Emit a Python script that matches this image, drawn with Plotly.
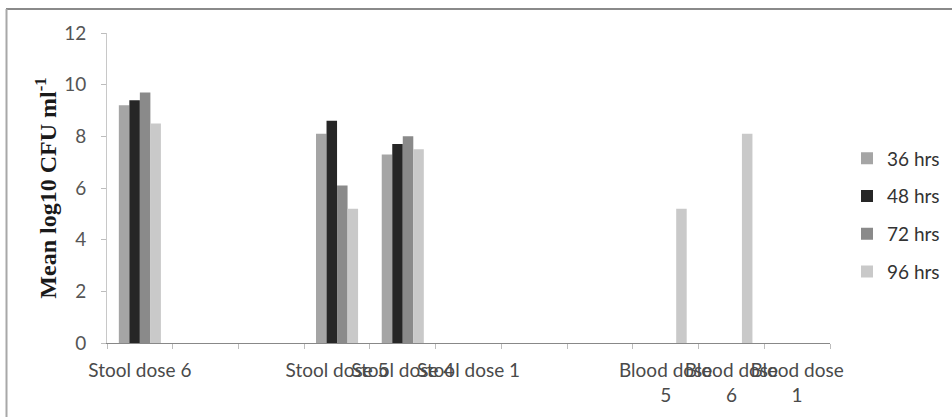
import plotly.graph_objects as go

# ---- data ----
categories = ["Stool dose 6", "", "", "Stool dose 5", "Stool dose 4", "Stool dose 1",
              "", "", "Blood dose<br>5", "Blood dose<br>6", "Blood dose<br>1"]
series_names = ["36 hrs", "48 hrs", "72 hrs", "96 hrs"]
hrs36 = [9.2, None, None, 8.1, 7.3, None, None, None, None, None, None]
hrs48 = [9.4, None, None, 8.6, 7.7, None, None, None, None, None, None]
hrs72 = [9.7, None, None, 6.1, 8.0, None, None, None, None, None, None]
hrs96 = [8.5, None, None, 5.2, 7.5, None, None, None, 5.2, 8.1, None]
y_ticks = [0, 2, 4, 6, 8, 10, 12]

colors = ["#a5a5a5", "#262626", "#8a8a8a", "#c9c9c9"]

keys = [f"c{i}" for i in range(len(categories))]
fig = go.Figure()
for i, (name, vals) in enumerate(zip(series_names, [hrs36, hrs48, hrs72, hrs96])):
    fig.add_trace(go.Bar(x=keys, y=vals, name=name, marker_color=colors[i],
                         marker_line_width=0, legendgroup=name))

W, H = 952, 417
L, R, T, B = 107, 122, 33, 74
pw, ph = W - L - R, H - T - B

fig.update_layout(
    width=W, height=H,
    margin=dict(l=L, r=R, t=T, b=B, autoexpand=False),
    paper_bgcolor="white", plot_bgcolor="white",
    barmode="group", bargap=0.36, bargroupgap=0,
    font=dict(family="Lato, Open Sans, sans-serif", color="#555555", size=19),
    legend=dict(x=(847 - L) / pw, y=0.5 - 27 / ph, yanchor="middle", xanchor="left",
                font=dict(size=19, color="#333333"), traceorder="grouped",
                tracegroupgap=10, bgcolor="rgba(0,0,0,0)"),
    xaxis=dict(type="category", categoryorder="array", categoryarray=keys,
               tickvals=keys, ticktext=categories, tickangle=0,
               tickson="boundaries", ticks="outside", ticklen=5,
               tickcolor="#bdbdbd", showline=True, linecolor="#888888",
               linewidth=1, showgrid=False, zeroline=False, automargin=False,
               ticklabelstandoff=10,
               tickfont=dict(size=19, color="#4a4a4a")),
    yaxis=dict(range=[0, 12], tickvals=y_ticks, ticks="outside", ticklen=5,
               tickcolor="#bdbdbd", showline=True, linecolor="#c8c8c8",
               showgrid=False, zeroline=False, automargin=False,
               ticklabelstandoff=11,
               title=dict(text="<b>Mean log10 CFU ml<sup>-1</sup></b>",
                          font=dict(family="Liberation Serif, Times New Roman, serif",
                                    size=24, color="#1a1a1a"),
                          standoff=0)),
    shapes=[
        dict(type="line", xref="paper", yref="paper",
             x0=(6 - L) / pw, x1=(960 - L) / pw,
             y0=(T + ph - 9) / ph, y1=(T + ph - 9) / ph,
             line=dict(color="#8a8a8a", width=2), layer="above"),
        dict(type="line", xref="paper", yref="paper",
             x0=(6.5 - L) / pw, x1=(6.5 - L) / pw,
             y0=(T + ph - 9) / ph, y1=(T + ph - 430) / ph,
             line=dict(color="#a8a8a8", width=2), layer="above"),
    ],
)

fig.write_html("out.html", config={"displayModeBar": False},
               post_script="document.body.style.margin='0';document.body.style.padding='0';")
